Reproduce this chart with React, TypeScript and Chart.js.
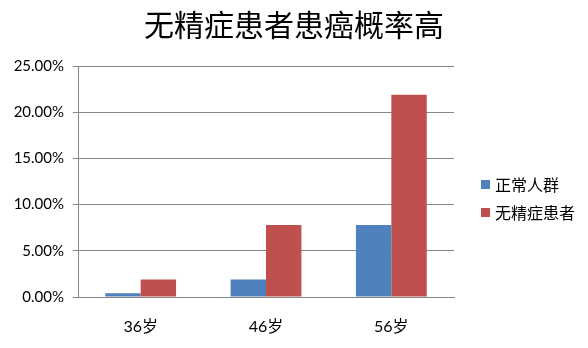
import React, { useEffect, useRef } from "react";
import { Chart, registerables } from "chart.js";

Chart.register(...registerables);

const categories = ["36岁", "46岁", "56岁"];
const normalValues = [0.004, 0.019, 0.078];
const azoospermiaValues = [0.019, 0.078, 0.219];
const seriesNames = ["正常人群", "无精症患者"];
const seriesColors = ["#4F81BD", "#C0504D"];
const titleText = "无精症患者患癌概率高";

const sideLegend = {
  id: "sideLegend",
  afterDraw(chart: any) {
    const { ctx, chartArea } = chart;
    const x0 = chartArea.right + 27;
    const midY = (chartArea.top + chartArea.bottom) / 2;
    const gap = 28;
    ctx.save();
    ctx.font = "16px 'Noto Sans CJK SC'";
    ctx.textBaseline = "middle";
    ctx.textAlign = "left";
    chart.data.datasets.forEach((ds: any, i: number) => {
      const y = midY + 3 + i * gap;
      ctx.fillStyle = ds.backgroundColor;
      ctx.fillRect(x0, y - 4.5, 9, 9);
      ctx.fillStyle = "#000";
      ctx.fillText(ds.label, x0 + 14, y);
    });
    ctx.restore();
  },
};

export default function App() {
  const ref = useRef<HTMLCanvasElement>(null);
  useEffect(() => {
    document.body.style.margin = "0";
    const ctx = ref.current!;
    const chart = new Chart(ctx, {
      type: "bar",
      data: {
        labels: categories,
        datasets: [
          {
            label: seriesNames[0],
            data: normalValues,
            backgroundColor: seriesColors[0],
            barPercentage: 1,
            categoryPercentage: 0.565,
          },
          {
            label: seriesNames[1],
            data: azoospermiaValues,
            backgroundColor: seriesColors[1],
            barPercentage: 1,
            categoryPercentage: 0.565,
          },
        ],
      },
      options: {
        animation: false,
        responsive: false,
        maintainAspectRatio: false,
        layout: { padding: 0 },
        plugins: {
          title: {
            display: true,
            text: titleText,
            color: "#000",
            font: { family: "'Noto Sans CJK SC'", size: 30, weight: "normal" },
            padding: { top: 7, bottom: 23 },
          },
          legend: { display: false },
          tooltip: { enabled: false },
        },
        scales: {
          x: {
            grid: { display: false, drawTicks: false },
            border: { color: "#868686", width: 1 },
            ticks: {
              color: "#000",
              padding: 20,
              font: { family: "Lato, 'Noto Sans CJK SC'", size: 16 },
            },
            afterFit: (s: any) => {
              s.height = 51;
            },
          },
          y: {
            min: 0,
            max: 0.25,
            grid: { color: "#868686", tickLength: 5, lineWidth: 1 },
            border: { color: "#868686", width: 1 },
            ticks: {
              stepSize: 0.05,
              color: "#000",
              padding: 9,
              font: { family: "Lato", size: 15 },
              callback: (v: any) => (Number(v) * 100).toFixed(2) + "%",
            },
            afterFit: (s: any) => {
              s.width = 78;
            },
          },
          legendSpace: {
            type: "linear",
            position: "right",
            display: true,
            grid: { display: false, drawTicks: false },
            border: { display: false },
            ticks: { display: false },
            afterFit: (s: any) => {
              s.width = 134;
            },
          },
        },
      },
      plugins: [sideLegend],
    });
    return () => chart.destroy();
  }, []);
  return (
    <div style={{ position: "absolute", left: 0, top: 0, width: 588, height: 348, background: "#fff" }}>
      <canvas ref={ref} width={588} height={348} />
    </div>
  );
}
